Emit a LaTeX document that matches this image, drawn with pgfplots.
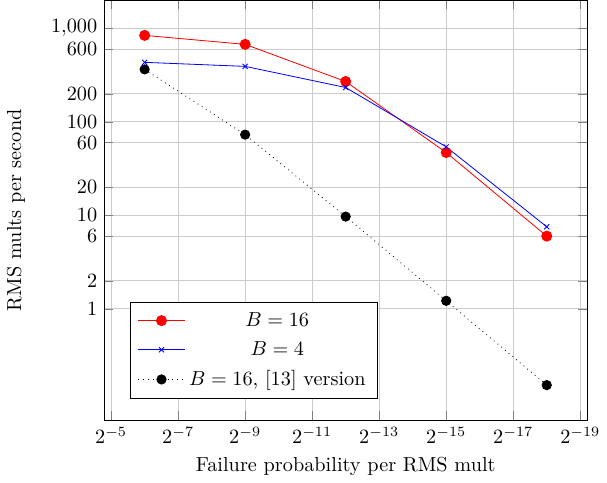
\documentclass[border=0pt]{standalone}
\usepackage{pgfplots}
\pgfplotsset{compat=1.18}

\begin{document}
\begin{tikzpicture}
\begin{axis}[
  scale only axis,
  width=238pt, height=207pt,
  xmode=log, ymode=log,
  log basis x=2,
  x dir=reverse,
  xtick={0.03125,0.0078125,0.001953125,0.00048828125,1.220703125e-4,3.0517578125e-5,7.62939453125e-6,1.9073486328125e-6},
  ytick={1,2,6,10,20,60,100,200,600,1000},
  yticklabels={$1$,$2$,$6$,$10$,$20$,$60$,$100$,$200$,$600$,{$1{,}000$}},
  minor tick num=0,
  grid=major,
  grid style={black!20},
  xlabel={Failure probability per RMS mult},
  ylabel={RMS mults per second},
  ylabel style={yshift=6pt},
  legend cell align=center,
  legend style={at={(0.052,0.05)},anchor=south west,row sep=2pt,
    inner xsep=4pt,inner ysep=3pt},
  legend image code/.code={\draw[mark repeat=2,mark phase=2]
    plot coordinates {(0cm,0cm) (0.4cm,0cm) (0.8cm,0cm)};},
]
\addplot[red, mark=*, mark size=2.5pt] coordinates {
  (0.015625,841) (0.001953125,674) (2.44140625e-4,270) (3.0517578125e-5,47) (3.814697265625e-6,6.0)};
\addlegendentry{$B = 16$}
\addplot[blue, mark=x, mark size=1.8pt] coordinates {
  (0.015625,433) (0.001953125,392) (2.44140625e-4,233) (3.0517578125e-5,54) (3.814697265625e-6,7.55)};
\addlegendentry{$B = 4$}
\addplot[black, dotted, mark=*, mark size=2.3pt, mark options={solid}] coordinates {
  (0.015625,364) (0.001953125,73) (2.44140625e-4,9.7) (3.0517578125e-5,1.22) (3.814697265625e-6,0.153)};
\addlegendentry{$B = 16$, [13] version}
\end{axis}
\end{tikzpicture}
\end{document}
